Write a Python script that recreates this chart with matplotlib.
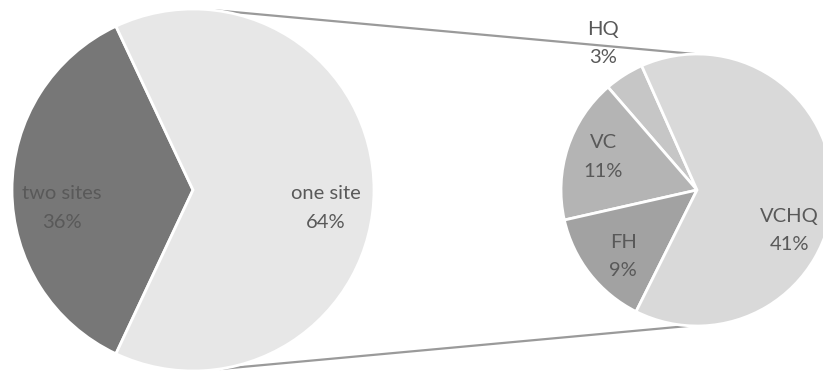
import matplotlib
matplotlib.use("Agg")
from matplotlib import pyplot as plt
import numpy as np

# main pie: share of organisations by number of sites
main_labels = ["two sites", "one site"]
main_values = [36, 64]
main_colors = ["#777777", "#e7e7e7"]

# breakdown of the "one site" slice
sub_labels = ["HQ", "VC", "FH", "VCHQ"]
sub_values = [3, 11, 9, 41]
sub_colors = ["#c6c6c6", "#b4b4b4", "#a2a2a2", "#d9d9d9"]

plt.rcParams['font.family'] = ['Lato', 'DejaVu Sans']

W, H = 823, 372
fig = plt.figure(figsize=(W / 100, H / 100), dpi=100)
ax = fig.add_axes([0, 0, 1, 1])

c1, r1 = (193, 182), 181
c2, r2 = (697, 182), 136

wp = dict(edgecolor="white", linewidth=2)
w1, _ = ax.pie(main_values, colors=main_colors, startangle=115.2,
               radius=r1, center=c1, wedgeprops=wp)
w2, _ = ax.pie(sub_values, colors=sub_colors, startangle=114,
               radius=r2, center=c2, wedgeprops=wp)

# connector lines between the two pies
for a1, a2 in [(83.5, 91), (-81.5, -93)]:
    p1 = (c1[0] + r1 * np.cos(np.radians(a1)), c1[1] + r1 * np.sin(np.radians(a1)))
    p2 = (c2[0] + r2 * np.cos(np.radians(a2)), c2[1] + r2 * np.sin(np.radians(a2)))
    ax.plot([p1[0], p2[0]], [p1[1], p2[1]], color="#9a9a9a", lw=1.6,
            solid_capstyle="butt", zorder=0)

# label spots as (angle, distance in radii)
main_pos = [(187.8, 0.73), (-7.7, 0.74)]
sub_pos = [(122.6, 1.28), (160.6, 0.73), (222, 0.73), (-23.5, 0.74)]

def put_labels(center, r, labels, values, pos):
    for lab, v, (a, d) in zip(labels, values, pos):
        x = center[0] + d * r * np.cos(np.radians(a))
        y = center[1] + d * r * np.sin(np.radians(a))
        ax.text(x, y, "%s\n%d%%" % (lab, v), ha="center", va="center",
                fontsize=14.5, color="#595959", linespacing=1.8)

put_labels(c1, r1, main_labels, main_values, main_pos)
put_labels(c2, r2, sub_labels, sub_values, sub_pos)

ax.set_xlim(0, W)
ax.set_ylim(0, H)
ax.set_aspect("equal")
ax.axis("off")

plt.savefig("out.png", dpi=100)
